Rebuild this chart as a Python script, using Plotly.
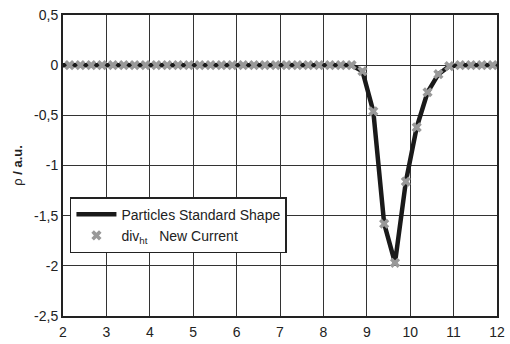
import plotly.graph_objects as go

# marker sample positions (x) and values (rho)
x_pts = [2.15, 2.40, 2.65, 2.90, 3.15, 3.40, 3.65, 3.90, 4.15, 4.40,
         4.65, 4.90, 5.15, 5.40, 5.65, 5.90, 6.15, 6.40, 6.65, 6.90,
         7.15, 7.40, 7.65, 7.90, 8.15, 8.40, 8.65, 8.90, 9.15, 9.40,
         9.65, 9.90, 10.15, 10.40, 10.65, 10.90, 11.15, 11.40, 11.65, 11.90]
y_new = [0, 0, 0, 0, 0, 0, 0, 0, 0, 0,
         0, 0, 0, 0, 0, 0, 0, 0, 0, 0,
         0, 0, 0, 0, 0, 0, 0, -0.06, -0.46, -1.58,
         -1.97, -1.16, -0.62, -0.27, -0.09, -0.01, 0, 0, 0, 0]

# standard-shape curve
x_std = [2.0, 2.15, 8.65, 8.90, 9.15, 9.40, 9.65, 9.90, 10.15, 10.40, 10.65, 10.90, 11.15, 12.0]
y_std = [0, 0, 0, -0.06, -0.46, -1.58, -1.97, -1.16, -0.62, -0.27, -0.09, -0.01, 0, 0]

x_ticks = [2, 3, 4, 5, 6, 7, 8, 9, 10, 11, 12]
y_ticks = [0.5, 0, -0.5, -1, -1.5, -2, -2.5]
y_tick_text = ["0,5", "0", "-0,5", "-1", "-1,5", "-2", "-2,5"]

fig = go.Figure()
fig.add_trace(go.Scatter(
    x=x_std, y=y_std, mode="lines", name="Particles Standard Shape",
    line=dict(color="#1a1a1a", width=4.5),
))
fig.add_trace(go.Scatter(
    x=x_pts, y=y_new, mode="markers", name="div<sub>ht</sub>   New Current",
    marker=dict(symbol="x", size=9, color="#999999", line=dict(width=0)),
))

font = "Liberation Sans, Arial, sans-serif"
fig.update_layout(
    width=510, height=344,
    margin=dict(l=63, r=13, t=15, b=28, autoexpand=False),
    paper_bgcolor="white", plot_bgcolor="white",
    font=dict(family=font, size=14, color="#222"),
    showlegend=True,
    legend=dict(
        x=0.016, y=0.395, xanchor="left", yanchor="top",
        bgcolor="white", bordercolor="#222", borderwidth=1.5,
        font=dict(size=14, color="#222"),
        tracegroupgap=0, itemwidth=40,
    ),
)
fig.update_xaxes(
    range=[2, 12], tickvals=x_ticks, ticks="", showgrid=True,
    gridcolor="#333", gridwidth=1, showline=True, linecolor="#222",
    linewidth=2, mirror=True, zeroline=False, automargin=False,
    tickfont=dict(size=14), ticklabelstandoff=2,
)
fig.update_yaxes(
    range=[-2.5, 0.5], tickvals=y_ticks, ticktext=y_tick_text, ticks="",
    showgrid=True, gridcolor="#333", gridwidth=1, showline=True,
    linecolor="#222", linewidth=2, mirror=True, zeroline=False,
    automargin=False, tickfont=dict(size=14),
    title=dict(text="ρ <b>/ a.u.</b>", font=dict(size=13), standoff=9),
)

fig.write_html("out.html")
